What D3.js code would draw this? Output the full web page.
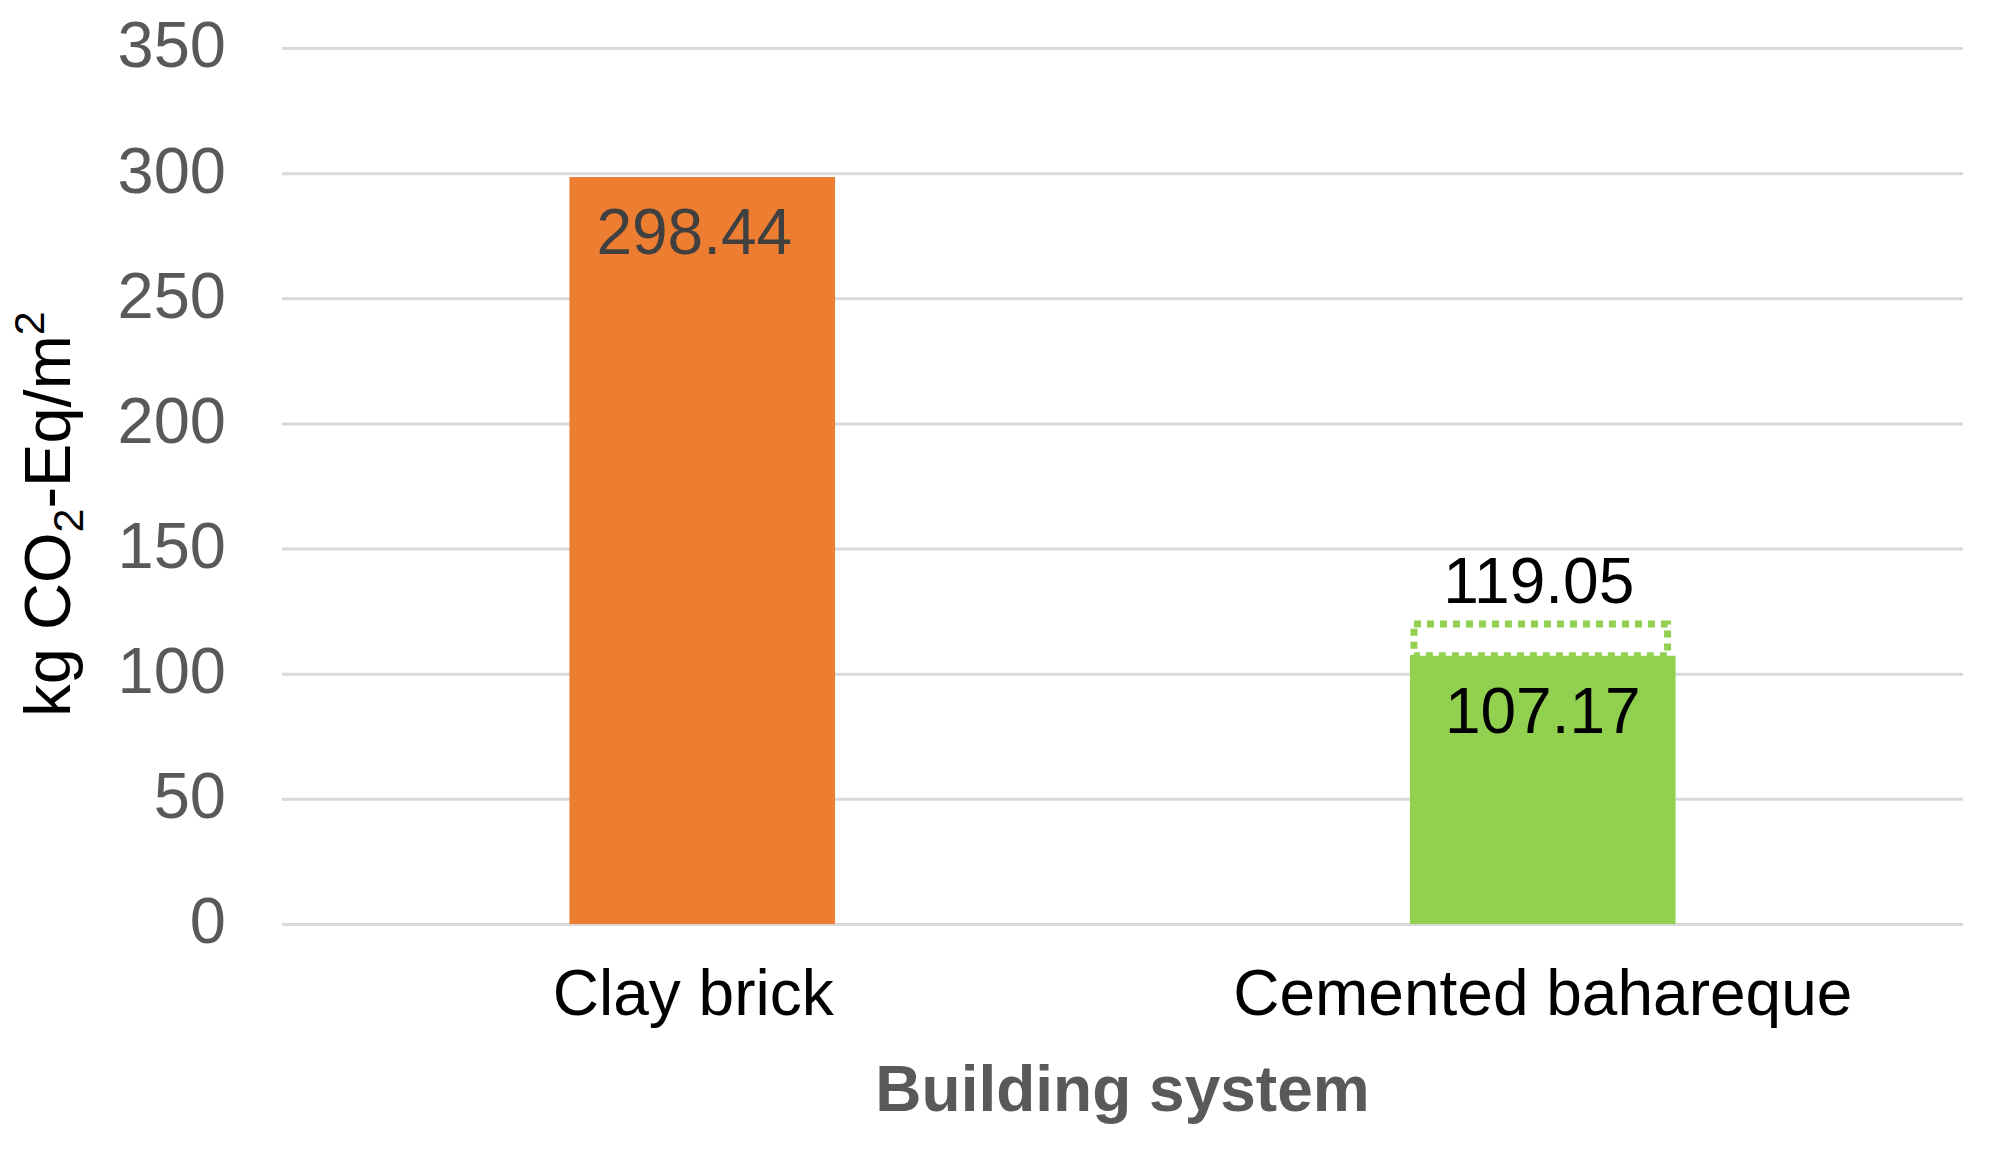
<!doctype html>
<html lang="en">
<head>
    <title>Embodied carbon by building system</title>
    <script src="https://d3js.org/d3.v7.min.js"></script>
    <style>
        body { margin: 0; background: #fff; }
        text { font-family: "Liberation Sans", Arial, sans-serif; }
    </style>
</head>
<body>
    <script>
       // data
       const categories = ['Clay brick', 'Cemented bahareque'];
       const values = [298.44, 107.17];
       const upperValues = [null, 119.05];   // dotted outline on top of the bar
       const barColors = ['#ED7D31', '#92D050'];
       const yTicks = [0, 50, 100, 150, 200, 250, 300, 350];

       let width = 1991, height = 1149;
       let plotLeft = 282, plotRight = 1963, plotTop = 48, plotBottom = 924;

       let svg = d3.select('body').append('svg')
                   .attr('width', width).attr('height', height)

       let x = d3.scaleBand().domain(categories).range([plotLeft, plotRight])
                 .paddingInner(0.684).paddingOuter(0.342)
       let y = d3.scaleLinear().domain([0, 350]).range([plotBottom, plotTop])

       // y axis + gridlines
       let yAxis = svg.append('g')
                      .attr('transform', `translate(${plotLeft},0)`)
                      .call(d3.axisLeft(y).tickValues(yTicks)
                              .tickSize(-(plotRight - plotLeft)).tickPadding(56))
       yAxis.select('.domain').remove()
       yAxis.selectAll('line').attr('stroke', '#D9D9D9').attr('stroke-width', 3)
       yAxis.selectAll('text')
            .attr('fill', '#595959').attr('font-size', 65)
            .attr('dy', '0.29em')

       // x axis labels
       let xAxis = svg.append('g')
                      .attr('transform', `translate(0,${plotBottom})`)
                      .call(d3.axisBottom(x).tickSize(0).tickPadding(46))
       xAxis.select('.domain').remove()
       xAxis.selectAll('text').attr('fill', '#000').attr('font-size', 64)
            .attr('dx', (d, i) => i == 0 ? -9 : 0)

       // dotted outline for the upper value
       svg.selectAll('rect.upper')
          .data(categories.map((c, i) => ({ c, v: upperValues[i], low: values[i] })).filter(d => d.v != null))
          .enter().append('rect')
          .attr('class', 'upper')
          .attr('x', d => x(d.c) + 4)
          .attr('width', x.bandwidth() - 12)
          .attr('y', d => y(d.v) - 2)
          .attr('height', d => y(d.low) - y(d.v) + 2)
          .attr('fill', 'none')
          .attr('stroke', '#92D050')
          .attr('stroke-width', 7)
          .attr('stroke-dasharray', '7,6')

       // bars
       svg.selectAll('rect.bar')
          .data(categories)
          .enter().append('rect')
          .attr('class', 'bar')
          .attr('x', d => x(d))
          .attr('width', x.bandwidth())
          .attr('y', (d, i) => y(values[i]))
          .attr('height', (d, i) => y(0) - y(values[i]))
          .attr('fill', (d, i) => barColors[i])

       // value labels inside the bars
       svg.selectAll('text.val')
          .data(categories)
          .enter().append('text')
          .attr('class', 'val')
          .attr('x', (d, i) => x(d) + x.bandwidth() / 2 + (i == 0 ? -8 : 0))
          .attr('y', (d, i) => y(values[i]) + 77)
          .attr('text-anchor', 'middle')
          .attr('font-size', 64)
          .attr('fill', (d, i) => i == 0 ? '#404040' : '#000')
          .text((d, i) => values[i].toFixed(2))

       // upper value labels
       svg.selectAll('text.upval')
          .data(categories.filter((c, i) => upperValues[i] != null))
          .enter().append('text')
          .attr('class', 'upval')
          .attr('x', d => x(d) + x.bandwidth() / 2 - 4)
          .attr('y', d => y(upperValues[categories.indexOf(d)]) - 23)
          .attr('text-anchor', 'middle')
          .attr('font-size', 64)
          .attr('fill', '#000')
          .text(d => upperValues[categories.indexOf(d)].toFixed(2))

       // axis titles
       svg.append('text')
          .attr('x', (plotLeft + plotRight) / 2).attr('y', 1111)
          .attr('text-anchor', 'middle')
          .attr('font-size', 64).attr('font-weight', 'bold')
          .attr('fill', '#595959')
          .text('Building system')

       let yTitle = svg.append('text')
          .attr('transform', 'translate(70,514) rotate(-90)')
          .attr('text-anchor', 'middle')
          .attr('font-size', 65)
          .attr('fill', '#000')
       yTitle.append('tspan').text('kg CO')
       yTitle.append('tspan').attr('font-size', 43).attr('dy', 13).text('2')
       yTitle.append('tspan').attr('dy', -13).text('-Eq/m')
       yTitle.append('tspan').attr('font-size', 43).attr('dy', -26).text('2')
    </script>
</body>
</html>
